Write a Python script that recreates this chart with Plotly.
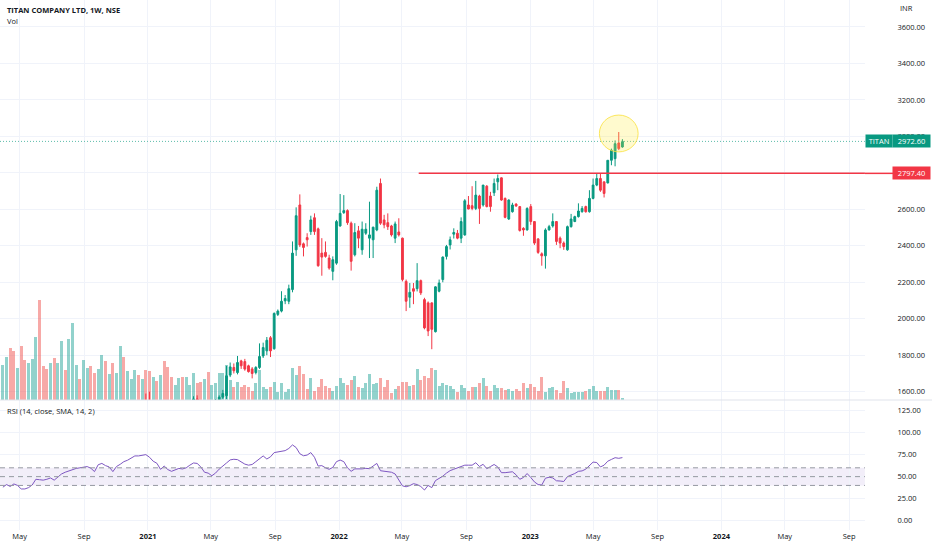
import pandas as pd
import plotly.graph_objects as go

# weekly candles, TITAN (NSE), first bar = week of 2020-03-30
open_ = [900, 930, 960, 935, 910, 930, 900, 880, 905, 930,
         980, 960, 945, 930, 965, 950, 985, 1050, 1030, 1080,
         1150, 1190, 1170, 1210, 1240, 1220, 1195, 1230, 1260, 1240,
         1255, 1225, 1260, 1330, 1300, 1350, 1390, 1440, 1420, 1510,
         1540, 1430, 1500, 1480, 1520, 1470, 1420, 1400, 1440, 1480,
         1460, 1500, 1520, 1560, 1520, 1480, 1510, 1470, 1500, 1540,
         1570, 1578, 1691, 1733, 1705, 1769, 1765, 1742, 1725, 1705,
         1733, 1796, 1824, 1896, 1836, 2024, 2042, 2098, 2096, 2160,
         2378, 2624, 2411, 2445, 2478, 2554, 2493, 2360, 2364, 2333,
         2260, 2305, 2509, 2582, 2593, 2524, 2351, 2482, 2378, 2469,
         2442, 2433, 2487, 2742, 2542, 2527, 2509, 2442, 2476, 2442,
         2205, 2118, 2165, 2165, 2209, 2105, 2087, 2087, 1929, 2151,
         2215, 2342, 2405, 2464, 2469, 2442, 2460, 2624, 2620, 2605,
         2673, 2624, 2727, 2673, 2691, 2751, 2773, 2660, 2547, 2587,
         2629, 2615, 2496, 2487, 2615, 2533, 2438, 2356, 2345, 2487,
         2509, 2533, 2442, 2415, 2378, 2505, 2533, 2560, 2587, 2615,
         2587, 2660, 2733, 2769, 2751, 2745, 2869, 2878, 2964, 2942]
high = [960, 985, 975, 945, 945, 935, 910, 915, 940, 995,
        990, 970, 955, 975, 975, 995, 1060, 1065, 1095, 1165,
        1200, 1200, 1220, 1255, 1250, 1230, 1240, 1270, 1270, 1265,
        1260, 1270, 1345, 1340, 1360, 1400, 1450, 1455, 1530, 1590,
        1600, 1510, 1515, 1530, 1525, 1480, 1430, 1450, 1490, 1490,
        1510, 1530, 1575, 1580, 1530, 1520, 1515, 1510, 1560, 1580,
        1610, 1742, 1760, 1755, 1796, 1775, 1780, 1748, 1735, 1740,
        1865, 1869, 1900, 1905, 2035, 2051, 2151, 2130, 2187, 2424,
        2611, 2682, 2418, 2469, 2565, 2578, 2500, 2442, 2424, 2351,
        2342, 2542, 2684, 2678, 2600, 2533, 2524, 2509, 2533, 2524,
        2642, 2505, 2724, 2769, 2570, 2578, 2515, 2533, 2551, 2445,
        2215, 2196, 2196, 2305, 2215, 2115, 2095, 2090, 2178, 2215,
        2342, 2405, 2451, 2496, 2487, 2556, 2656, 2673, 2727, 2756,
        2680, 2733, 2733, 2696, 2769, 2791, 2775, 2665, 2655, 2636,
        2633, 2617, 2502, 2611, 2629, 2535, 2442, 2364, 2496, 2515,
        2578, 2536, 2451, 2424, 2511, 2575, 2565, 2633, 2618, 2620,
        2705, 2769, 2796, 2796, 2751, 2869, 2933, 2978, 3024, 2985]
low = [880, 915, 925, 895, 900, 890, 870, 875, 900, 925,
       950, 935, 920, 925, 940, 945, 980, 1020, 1025, 1075,
       1140, 1160, 1165, 1200, 1210, 1185, 1190, 1225, 1230, 1235,
       1215, 1220, 1255, 1290, 1295, 1345, 1385, 1410, 1415, 1440,
       1420, 1425, 1470, 1475, 1460, 1410, 1390, 1395, 1435, 1450,
       1455, 1495, 1515, 1510, 1470, 1470, 1460, 1465, 1495, 1530,
       1560, 1560, 1680, 1700, 1695, 1725, 1715, 1705, 1673, 1695,
       1725, 1785, 1800, 1790, 1830, 2015, 2035, 2080, 2080, 2145,
       2345, 2393, 2342, 2396, 2460, 2460, 2285, 2236, 2335, 2269,
       2211, 2296, 2505, 2575, 2515, 2264, 2342, 2387, 2351, 2460,
       2333, 2333, 2480, 2515, 2496, 2487, 2451, 2415, 2451, 2205,
       2042, 2060, 2080, 2150, 2130, 1942, 1905, 1833, 1925, 2145,
       2200, 2325, 2380, 2440, 2436, 2415, 2455, 2600, 2595, 2596,
       2520, 2615, 2611, 2587, 2673, 2705, 2647, 2551, 2542, 2582,
       2615, 2478, 2455, 2484, 2515, 2405, 2356, 2291, 2275, 2484,
       2500, 2405, 2387, 2378, 2373, 2500, 2530, 2555, 2582, 2582,
       2582, 2655, 2727, 2696, 2665, 2742, 2842, 2836, 2925, 2938]
close = [930, 960, 935, 910, 930, 900, 880, 905, 930, 980,
         960, 945, 930, 965, 950, 985, 1050, 1030, 1080, 1150,
         1190, 1170, 1210, 1240, 1220, 1195, 1230, 1260, 1240, 1255,
         1225, 1260, 1330, 1300, 1350, 1390, 1440, 1420, 1470, 1455,
         1430, 1500, 1480, 1520, 1470, 1420, 1400, 1440, 1480, 1460,
         1500, 1520, 1560, 1520, 1480, 1510, 1470, 1500, 1540, 1570,
         1590, 1687, 1736, 1715, 1760, 1742, 1724, 1710, 1700, 1733,
         1793, 1842, 1882, 1824, 2029, 2042, 2096, 2111, 2165, 2360,
         2565, 2405, 2391, 2433, 2542, 2478, 2291, 2338, 2342, 2278,
         2324, 2533, 2578, 2593, 2527, 2315, 2473, 2442, 2491, 2491,
         2460, 2502, 2705, 2524, 2515, 2505, 2460, 2520, 2460, 2215,
         2096, 2145, 2151, 2209, 2142, 1950, 1933, 1942, 2175, 2196,
         2338, 2396, 2433, 2473, 2442, 2533, 2647, 2602, 2605, 2678,
         2605, 2733, 2615, 2615, 2742, 2769, 2651, 2556, 2651, 2624,
         2618, 2484, 2487, 2605, 2533, 2415, 2364, 2345, 2487, 2505,
         2533, 2424, 2415, 2396, 2505, 2547, 2560, 2591, 2605, 2587,
         2660, 2733, 2769, 2705, 2687, 2869, 2924, 2960, 2933, 2972.6]

# weekly volume, lakh shares
volume = [35, 43, 52, 49, 32, 54, 40, 37, 41, 63, 100, 34, 31, 37, 42, 37, 59, 30, 61, 77,
          35, 21, 40, 32, 34, 27, 31, 45, 39, 26, 37, 27, 54, 43, 29, 21, 30, 25, 21, 30,
          29, 23, 19, 25, 39, 33, 23, 15, 22, 23, 23, 15, 27, 17, 18, 21, 28, 15, 17, 27,
          27, 35, 20, 13, 18, 13, 15, 13, 9, 17, 30, 13, 11, 13, 18, 8, 17, 8, 11, 32,
          25, 34, 26, 11, 22, 9, 13, 21, 14, 12, 9, 14, 22, 17, 15, 20, 24, 13, 12, 17,
          26, 16, 17, 22, 13, 20, 7, 11, 14, 18, 18, 14, 15, 31, 20, 24, 22, 32, 30, 14,
          17, 15, 14, 11, 8, 15, 12, 9, 13, 13, 17, 22, 14, 9, 15, 12, 12, 10, 11, 9,
          11, 9, 17, 12, 16, 13, 9, 23, 8, 12, 13, 10, 7, 19, 12, 7, 8, 8, 8, 9,
          11, 14, 9, 9, 9, 13, 10, 10, 10, 2]

rsi = [38, 41, 38.8, 41.7, 40, 36, 36, 37.5, 40.5, 47,
       46.5, 46, 47, 48.5, 46, 50, 53, 55, 56.5, 58.3,
       59.3, 60, 61, 61.4, 59.5, 55.7, 63.5, 65, 62.5, 61,
       55.7, 61.5, 64, 67, 68.6, 71, 73.5, 73.5, 74.5, 75,
       72, 67.5, 65.2, 58.3, 62, 58, 56, 57.5, 59.3, 58.7,
       60, 63, 65.5, 65, 61, 55, 54, 51, 54, 58.5,
       62.5, 65.5, 69, 69.7, 69.3, 67, 64.2, 63, 63.8, 67,
       70.8, 73.5, 70, 72.5, 77.3, 78, 78.8, 79.5, 82, 86,
       83, 76, 73.7, 74.5, 77.3, 72, 62, 62.5, 60, 58.3,
       60.5, 67, 68.8, 67, 60, 56, 58.8, 58.5, 58.8, 59.4,
       59, 62, 65, 56.7, 56.4, 56, 55, 53, 46, 39.5,
       38.5, 39.8, 42, 41, 38.8, 34.8, 40, 37.5, 45.5, 47.8,
       50.5, 54, 56.8, 58.4, 59.8, 61.3, 63, 63, 63, 65.8,
       61.5, 64, 59, 61.4, 63.8, 61, 54.5, 54.5, 55, 55.5,
       52, 47, 49, 53.5, 49, 44, 41, 40.5, 48.2, 49.3,
       48.5, 45.3, 45, 44.5, 50, 51.5, 53.5, 56, 56.5, 58.5,
       62, 66.5, 66, 61, 63, 67.5, 69.5, 71.5, 70.8, 71.6]

last_price = 2972.6
level = 2797.4

month_ticks = ["2020-05-01", "2020-09-01", "2021-01-01", "2021-05-01", "2021-09-01",
               "2022-01-01", "2022-05-01", "2022-09-01", "2023-01-01", "2023-05-01",
               "2023-09-01", "2024-01-01", "2024-05-01", "2024-09-01"]
month_labels = ["May", "Sep", "<b>2021</b>", "May", "Sep", "<b>2022</b>", "May", "Sep",
                "<b>2023</b>", "May", "Sep", "<b>2024</b>", "May", "Sep"]
price_ticks = [1600, 1800, 2000, 2200, 2400, 2600, 2800, 3000, 3200, 3400, 3600]
rsi_ticks = [0, 25, 50, 75, 100, 125]

UP = "#089981"
DOWN = "#F23645"
FONT = "Open Sans"
TXT = "#131722"
GRID = "#f0f3fa"

dates = pd.date_range("2020-03-30", periods=len(close), freq="W-MON")
vol_colors = ["rgba(38,166,154,0.5)" if c >= o else "rgba(239,83,80,0.5)"
              for o, c in zip(open_, close)]

fig = go.Figure()

fig.add_trace(go.Bar(
    x=dates, y=volume, xaxis="x", yaxis="y",
    marker=dict(color=vol_colors, line=dict(width=0)),
    width=7 * 86400000 * 0.78,
    showlegend=False, hoverinfo="skip",
))
fig.add_trace(go.Candlestick(
    x=dates, open=open_, high=high, low=low, close=close,
    xaxis="x", yaxis="y3",
    increasing=dict(line=dict(color=UP, width=1), fillcolor=UP),
    decreasing=dict(line=dict(color=DOWN, width=1), fillcolor=DOWN),
    whiskerwidth=0, showlegend=False,
))
fig.add_trace(go.Scatter(
    x=dates, y=rsi, xaxis="x", yaxis="y2", mode="lines",
    line=dict(color="#7E57C2", width=1), showlegend=False,
))

split = 1 - 400 / 530
axis_font = dict(family=FONT, size=7.5, color=TXT)

shapes = [
    # pane separator
    dict(type="line", xref="paper", yref="paper", x0=0, x1=1, y0=split, y1=split,
         line=dict(color="#e0e3eb", width=1)),
    # last price
    dict(type="line", xref="x domain", yref="y3", x0=0, x1=1, y0=last_price, y1=last_price,
         line=dict(color="#5cbcab", width=1, dash="1px,2px")),
    # resistance line
    dict(type="line", xref="x", yref="y3", x0="2022-06-02", x1="2024-10-01",
         y0=level, y1=level, line=dict(color=DOWN, width=1.5)),
    dict(type="line", xref="paper", yref="y3", x0=0.928, x1=0.96, y0=level, y1=level,
         line=dict(color=DOWN, width=1.5)),
    # highlight circle
    dict(type="circle", xref="x", yref="y3",
         x0=dates[168] - pd.Timedelta(days=37), x1=dates[168] + pd.Timedelta(days=37),
         y0=3016 - 101, y1=3016 + 101,
         fillcolor="rgba(255,235,59,0.25)", line=dict(color="rgba(250,225,60,0.8)", width=1)),
    # RSI band
    dict(type="rect", xref="x domain", yref="y2", x0=0, x1=1, y0=40, y1=60,
         fillcolor="rgba(126,87,194,0.1)", line=dict(width=0), layer="below"),
]
for lvl in [60, 50, 40]:
    shapes.append(dict(type="line", xref="x domain", yref="y2", x0=0, x1=1, y0=lvl, y1=lvl,
                       line=dict(color="#9598a1", width=1, dash="5px,4px")))

annotations = [
    dict(text="<b>TITAN COMPANY LTD, 1W, NSE</b>", xref="paper", yref="paper",
         x=5 / 932, y=1 - 10 / 530, xanchor="left", yanchor="middle", showarrow=False,
         font=dict(family=FONT, size=7.5, color=TXT)),
    dict(text="Vol", xref="paper", yref="paper", x=5 / 932, y=1 - 21 / 530,
         xanchor="left", yanchor="middle", showarrow=False,
         font=dict(family=FONT, size=7.5, color=TXT)),
    dict(text="INR", xref="paper", yref="paper", x=898 / 932, y=1 - 8 / 530,
         xanchor="left", yanchor="middle", showarrow=False,
         font=dict(family=FONT, size=7.5, color=TXT)),
    dict(text="RSI (14, close, SMA, 14, 2)", xref="paper", yref="paper", x=5 / 932,
         y=1 - 411 / 530, xanchor="left", yanchor="middle", showarrow=False,
         font=dict(family=FONT, size=7.5, color=TXT)),
    dict(text="TITAN", xref="paper", yref="y3", x=879 / 932, y=last_price,
         xanchor="center", yanchor="middle", showarrow=False, bgcolor=UP, width=24,
         borderpad=1, font=dict(family=FONT, size=7.5, color="white")),
    dict(text=f"{last_price:.2f}", xref="paper", yref="y3", x=911.5 / 932, y=last_price,
         xanchor="center", yanchor="middle", showarrow=False, bgcolor=UP, width=35,
         borderpad=1, font=dict(family=FONT, size=7.5, color="white")),
    dict(text=f"{level:.2f}", xref="paper", yref="y3", x=911.5 / 932, y=level,
         xanchor="center", yanchor="middle", showarrow=False, bgcolor=DOWN, width=35,
         borderpad=1, font=dict(family=FONT, size=7.5, color="white")),
]

fig.update_layout(
    width=932, height=550,
    margin=dict(l=0, r=0, t=0, b=20),
    paper_bgcolor="white", plot_bgcolor="white",
    font=dict(family=FONT, color=TXT),
    showlegend=False, bargap=0,
    shapes=shapes, annotations=annotations,
    xaxis=dict(
        type="date", domain=[0, 0.928], anchor="y2",
        range=["2020-03-24 12:00", "2024-10-01"],
        tickvals=month_ticks, ticktext=month_labels, tickfont=axis_font,
        showgrid=True, gridcolor=GRID, zeroline=False, showline=False, ticks="",
        rangeslider=dict(visible=False),
    ),
    yaxis=dict(domain=[split, 1], range=[0, 400], visible=False, fixedrange=True),
    yaxis3=dict(
        overlaying="y", side="right", anchor="x", range=[1554.5, 3748],
        tickvals=price_ticks, ticktext=[f"{v:.2f}" for v in price_ticks],
        tickfont=axis_font, showgrid=True, gridcolor=GRID, zeroline=False,
        ticks="outside", ticklen=30, tickcolor="rgba(0,0,0,0)",
    ),
    yaxis2=dict(
        domain=[0, split], anchor="x", side="right", range=[-10.6, 137],
        tickvals=rsi_ticks, ticktext=[f"{v:.2f}" for v in rsi_ticks],
        tickfont=axis_font, showgrid=True, gridcolor=GRID, zeroline=False,
        ticks="outside", ticklen=30, tickcolor="rgba(0,0,0,0)",
    ),
)

# the page's default body margin would push the 932x550 figure off the window
fig.write_html("out.html", config={"displayModeBar": False},
               post_script="document.body.style.margin='0px';")
